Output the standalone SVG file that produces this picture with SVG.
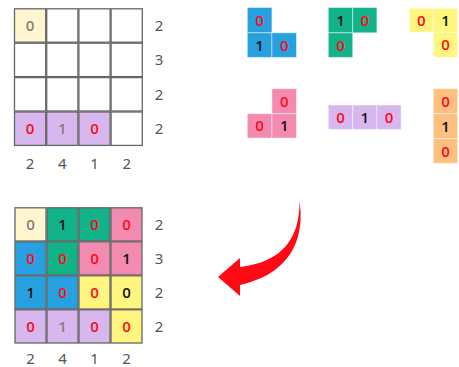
<svg xmlns="http://www.w3.org/2000/svg" width="459" height="367" viewBox="0 0 459 367">
<style>
text{font-family:"Open Sans","Noto Sans","Liberation Sans",sans-serif;font-size:15px;text-anchor:middle;font-weight:600}
.g{fill:#fff;stroke:#666;stroke-width:1.3}
.p{stroke:#ffffff;stroke-opacity:0.45;stroke-width:1}
.lbl{fill:#555;font-weight:400;font-family:"Noto Sans","Liberation Sans",sans-serif}
.r{fill:#ff0a14}
.k{fill:#111}
.m{fill:#808080}
.cr{fill:#fff5cf}.bl{fill:#27a0df}.gr{fill:#13b38a}.pk{fill:#f38bb0}.ye{fill:#fff57f}.pu{fill:#d8b7ef}.or{fill:#fdc07e}
</style>
<rect width="459" height="367" fill="#fff"/>
<g id="grid-top">
<rect class="g" x="14.5" y="8.8" width="31.2" height="33.4" style="fill:#fff5cf"/>
<rect class="g" x="46.7" y="8.8" width="31.2" height="33.4"/>
<rect class="g" x="78.9" y="8.8" width="31.2" height="33.4"/>
<rect class="g" x="111.1" y="8.8" width="31.2" height="33.4"/>
<rect class="g" x="14.5" y="43.2" width="31.2" height="33.4"/>
<rect class="g" x="46.7" y="43.2" width="31.2" height="33.4"/>
<rect class="g" x="78.9" y="43.2" width="31.2" height="33.4"/>
<rect class="g" x="111.1" y="43.2" width="31.2" height="33.4"/>
<rect class="g" x="14.5" y="77.6" width="31.2" height="33.4"/>
<rect class="g" x="46.7" y="77.6" width="31.2" height="33.4"/>
<rect class="g" x="78.9" y="77.6" width="31.2" height="33.4"/>
<rect class="g" x="111.1" y="77.6" width="31.2" height="33.4"/>
<rect class="g" x="14.5" y="112" width="31.2" height="33.4" style="fill:#d8b7ef"/>
<rect class="g" x="46.7" y="112" width="31.2" height="33.4" style="fill:#d8b7ef"/>
<rect class="g" x="78.9" y="112" width="31.2" height="33.4" style="fill:#d8b7ef"/>
<rect class="g" x="111.1" y="112" width="31.2" height="33.4"/>
<text class="m" x="30.1" y="31">0</text>
<text class="r" x="30.1" y="134">0</text>
<text class="m" x="62.3" y="134">1</text>
<text class="r" x="94.5" y="134">0</text>
<text class="lbl" x="159" y="31">2</text>
<text class="lbl" x="159" y="65.3">3</text>
<text class="lbl" x="159" y="99.7">2</text>
<text class="lbl" x="159" y="134">2</text>
<text class="lbl" x="30.1" y="168.5">2</text>
<text class="lbl" x="62.3" y="168.5">4</text>
<text class="lbl" x="94.5" y="168.5">1</text>
<text class="lbl" x="126.7" y="168.5">2</text>
</g>
<g id="piece-blue">
<rect class="p bl" x="247.3" y="7.5" width="24.6" height="25.3"/>
<rect class="p bl" x="247.3" y="32.8" width="24.6" height="24.6"/>
<rect class="p bl" x="271.9" y="32.8" width="24.6" height="24.6"/>
<text class="r" x="259.6" y="25.5">0</text>
<text class="k" x="259.6" y="50.5">1</text>
<text class="r" x="284.2" y="50.5">0</text>
</g>
<g id="piece-green">
<rect class="p gr" x="328.3" y="7.5" width="24.4" height="25.3"/>
<rect class="p gr" x="352.7" y="7.5" width="24.2" height="25.3"/>
<rect class="p gr" x="328.3" y="32.8" width="24.4" height="24.6"/>
<text class="k" x="340.5" y="25.5">1</text>
<text class="r" x="364.8" y="25.5">0</text>
<text class="r" x="340.5" y="50.5">0</text>
</g>
<g id="piece-yellow">
<rect class="p ye" x="409.3" y="8.3" width="24" height="24"/>
<rect class="p ye" x="433.3" y="8.3" width="24.4" height="24"/>
<rect class="p ye" x="433.3" y="32.3" width="24.4" height="25"/>
<text class="r" x="421.3" y="25.8">0</text>
<text class="k" x="445.5" y="25.8">1</text>
<text class="r" x="445.5" y="50.3">0</text>
</g>
<g id="piece-pink">
<rect class="p pk" x="271.9" y="88.7" width="24.6" height="25"/>
<rect class="p pk" x="247.3" y="113.7" width="24.6" height="24.4"/>
<rect class="p pk" x="271.9" y="113.7" width="24.6" height="24.4"/>
<text class="r" x="284.2" y="106.7">0</text>
<text class="r" x="259.6" y="131.4">0</text>
<text class="k" x="284.2" y="131.4">1</text>
</g>
<g id="piece-purple">
<rect class="p pu" x="328.3" y="105" width="24.4" height="24.4"/>
<rect class="p pu" x="352.7" y="105" width="24.2" height="24.4"/>
<rect class="p pu" x="376.9" y="105" width="24.2" height="24.4"/>
<text class="r" x="340.5" y="122.7">0</text>
<text class="k" x="364.8" y="122.7">1</text>
<text class="r" x="389" y="122.7">0</text>
</g>
<g id="piece-orange">
<rect class="p or" x="433.3" y="88.7" width="24.4" height="25"/>
<rect class="p or" x="433.3" y="113.7" width="24.4" height="25"/>
<rect class="p or" x="433.3" y="138.7" width="24.4" height="24.6"/>
<text class="r" x="445.5" y="106.7">0</text>
<text class="k" x="445.5" y="131.7">1</text>
<text class="r" x="445.5" y="156.5">0</text>
</g>
<g id="connectors">
<path d="M299.5,201 C304,230 298,272 240,285 L240,296 L218,277 L240,258 L240,267 C285,262 300,235 299.5,201 Z" fill="#ff0a14"/>
</g>
<g id="grid-bottom">
<rect class="g" x="15" y="207.8" width="31" height="33.2" style="fill:#fff5cf"/>
<rect class="g" x="47" y="207.8" width="31" height="33.2" style="fill:#13b38a"/>
<rect class="g" x="79" y="207.8" width="31" height="33.2" style="fill:#13b38a"/>
<rect class="g" x="111" y="207.8" width="31" height="33.2" style="fill:#f38bb0"/>
<rect class="g" x="15" y="241.8" width="31" height="33.2" style="fill:#27a0df"/>
<rect class="g" x="47" y="241.8" width="31" height="33.2" style="fill:#13b38a"/>
<rect class="g" x="79" y="241.8" width="31" height="33.2" style="fill:#f38bb0"/>
<rect class="g" x="111" y="241.8" width="31" height="33.2" style="fill:#f38bb0"/>
<rect class="g" x="15" y="275.8" width="31" height="33.2" style="fill:#27a0df"/>
<rect class="g" x="47" y="275.8" width="31" height="33.2" style="fill:#27a0df"/>
<rect class="g" x="79" y="275.8" width="31" height="33.2" style="fill:#fff57f"/>
<rect class="g" x="111" y="275.8" width="31" height="33.2" style="fill:#fff57f"/>
<rect class="g" x="15" y="309.8" width="31" height="33.2" style="fill:#d8b7ef"/>
<rect class="g" x="47" y="309.8" width="31" height="33.2" style="fill:#d8b7ef"/>
<rect class="g" x="79" y="309.8" width="31" height="33.2" style="fill:#d8b7ef"/>
<rect class="g" x="111" y="309.8" width="31" height="33.2" style="fill:#fff57f"/>
<text class="m" x="30.5" y="229.8">0</text>
<text class="k" x="62.5" y="229.8">1</text>
<text class="r" x="94.5" y="229.8">0</text>
<text class="r" x="126.5" y="229.8">0</text>
<text class="r" x="30.5" y="263.8">0</text>
<text class="r" x="62.5" y="263.8">0</text>
<text class="r" x="94.5" y="263.8">0</text>
<text class="k" x="126.5" y="263.8">1</text>
<text class="k" x="30.5" y="297.8">1</text>
<text class="r" x="62.5" y="297.8">0</text>
<text class="r" x="94.5" y="297.8">0</text>
<text class="k" x="126.5" y="297.8">0</text>
<text class="r" x="30.5" y="331.8">0</text>
<text class="m" x="62.5" y="331.8">1</text>
<text class="r" x="94.5" y="331.8">0</text>
<text class="r" x="126.5" y="331.8">0</text>
<text class="lbl" x="159" y="229.8">2</text>
<text class="lbl" x="159" y="263.8">3</text>
<text class="lbl" x="159" y="297.8">2</text>
<text class="lbl" x="159" y="331.8">2</text>
<text class="lbl" x="30.5" y="364">2</text>
<text class="lbl" x="62.5" y="364">4</text>
<text class="lbl" x="94.5" y="364">1</text>
<text class="lbl" x="126.5" y="364">2</text>
</g>
</svg>
